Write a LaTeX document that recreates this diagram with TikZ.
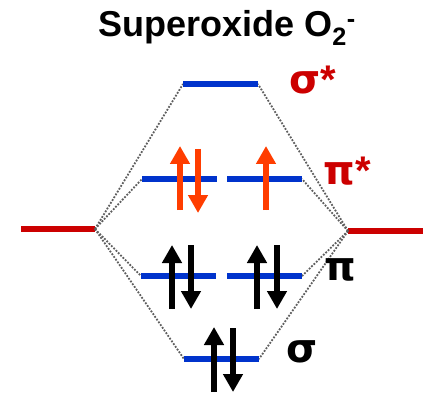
\documentclass[tikz,border=0pt]{standalone}
\usepackage{fontspec}
\setmainfont{Liberation Sans}
\newfontfamily\greekfont{DejaVu Sans}
\usetikzlibrary{arrows.meta}
\definecolor{lvlblue}{HTML}{0033CC}
\definecolor{lvlred}{HTML}{CC0000}
\definecolor{elorange}{HTML}{FF3D00}
\definecolor{dotgray}{HTML}{5E5E5E}
\tikzset{
  level/.style={draw=lvlblue,line width=6pt},
  aolevel/.style={draw=lvlred,line width=6pt},
  corr/.style={draw=dotgray,line width=1.8pt,dash pattern=on 1.8pt off 1.5pt},
  spin/.style={line width=6.5pt,-{Triangle[width=19pt,length=18pt]}},
  spinblack/.style={spin,draw=black,fill=black},
  spinorange/.style={spin,draw=elorange,fill=elorange},
  lbl/.style={font=\bfseries\fontsize{40}{42}\selectfont,inner sep=0pt},
}
\begin{document}
\begin{tikzpicture}[x=1pt,y=-1pt]
\useasboundingbox (0,0) rectangle (423,393);
\node[font=\bfseries\fontsize{36}{38}\selectfont,inner sep=0pt] (title) at (227,28) {Superoxide O\textsubscript{2}\textsuperscript{-}};
% atomic levels
\coordinate (La) at (21,229); \coordinate (Lb) at (95,229);
\coordinate (Ra) at (348,231); \coordinate (Rb) at (423,231);
\draw[aolevel] (La) -- (Lb);
\draw[aolevel] (Ra) -- (Rb);
% MO levels
\coordinate (ssa) at (183,84); \coordinate (ssb) at (258,84);
\coordinate (p1a) at (142,179); \coordinate (p1b) at (217,179);
\coordinate (p2a) at (227,179); \coordinate (p2b) at (302,179);
\coordinate (q1a) at (141,276); \coordinate (q1b) at (216,276);
\coordinate (q2a) at (227,276); \coordinate (q2b) at (302,276);
\coordinate (sa) at (184,359); \coordinate (sb) at (259,359);
% correlation lines
\foreach \t in {ssa,p1a,q1a,sa} \draw[corr] (Lb) -- (\t);
\foreach \t in {ssb,p2b,q2b,sb} \draw[corr] (Ra) -- (\t);
\foreach \a/\b in {ssa/ssb,p1a/p1b,p2a/p2b,q1a/q1b,q2a/q2b,sa/sb} \draw[level] (\a) -- (\b);
% electrons pi*
\coordinate (e1a) at (180,210); \coordinate (e1b) at (180,146);
\coordinate (e2a) at (198,149); \coordinate (e2b) at (198,213);
\coordinate (e3a) at (266,210); \coordinate (e3b) at (266,146);
\draw[spinorange] (e1a) -- (e1b);
\draw[spinorange] (e2a) -- (e2b);
\draw[spinorange] (e3a) -- (e3b);
% electrons pi
\coordinate (f1a) at (172,309); \coordinate (f1b) at (172,245);
\coordinate (f2a) at (191,245); \coordinate (f2b) at (191,309);
\coordinate (f3a) at (257,309); \coordinate (f3b) at (257,245);
\coordinate (f4a) at (277,245); \coordinate (f4b) at (277,309);
\draw[spinblack] (f1a) -- (f1b);
\draw[spinblack] (f2a) -- (f2b);
\draw[spinblack] (f3a) -- (f3b);
\draw[spinblack] (f4a) -- (f4b);
% electrons sigma
\coordinate (g1a) at (214,392); \coordinate (g1b) at (214,327);
\coordinate (g2a) at (233,328); \coordinate (g2b) at (233,392);
\draw[spinblack] (g1a) -- (g1b);
\draw[spinblack] (g2a) -- (g2b);
% labels
\node[lbl,text=lvlred] (lss) at (313,80) {{\greekfont σ}*};
\node[lbl,text=lvlred] (lps) at (347,171) {{\greekfont π}*};
\node[lbl] (lp) at (340,270) {{\greekfont π}};
\node[lbl] (ls) at (302,352) {{\greekfont σ}};
\end{tikzpicture}
\end{document}
